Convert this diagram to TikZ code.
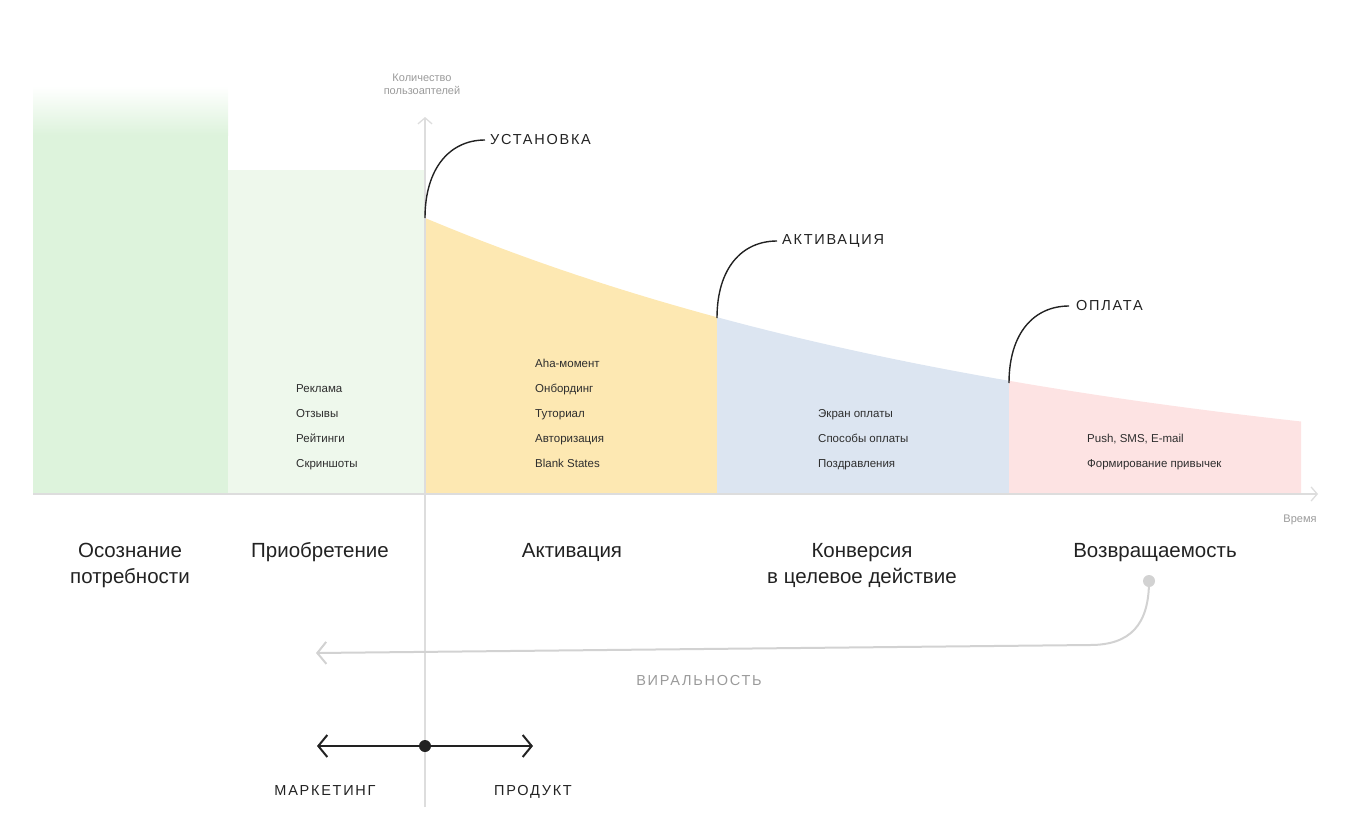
\documentclass[tikz,border=0pt]{standalone}
\usepackage{fontspec}
\setmainfont{Liberation Sans}
\newfontfamily\spaced[LetterSpace=12]{Liberation Sans}
\usetikzlibrary{arrows.meta}
\definecolor{greenA}{HTML}{DDF3DC}
\definecolor{greenB}{HTML}{EEF8EC}
\definecolor{yellowA}{HTML}{FDE8B2}
\definecolor{blueA}{HTML}{DCE5F1}
\definecolor{pinkA}{HTML}{FDE3E3}
\definecolor{axisgray}{HTML}{DDDDDD}
\definecolor{lightgray}{HTML}{D2D2D2}
\definecolor{textgray}{HTML}{9A9A9A}
\definecolor{darktext}{HTML}{222222}
\definecolor{itemtext}{HTML}{2E2E2E}
\tikzset{
  axisline/.style={draw=axisgray, line width=1.3pt},
  callout/.style={draw=darktext, line width=1.4pt},
  milestone/.style={font=\spaced\fontsize{14.5}{17}\selectfont, text=darktext, anchor=west, inner sep=0pt},
  item/.style={font=\fontsize{11.5}{13}\selectfont, text=itemtext, anchor=base west, inner sep=0pt},
  stage/.style={font=\fontsize{20.5}{26}\selectfont, text=darktext, align=center, anchor=base, inner sep=0pt},
  axislabel/.style={font=\fontsize{11}{13}\selectfont, text=textgray, align=center, inner sep=0pt},
  bottomlabel/.style={font=\spaced\fontsize{14.5}{17}\selectfont, text=darktext, anchor=base, inner sep=0pt},
}
\begin{document}
\begin{tikzpicture}[x=1pt,y=-1pt]
\useasboundingbox (0,0) rectangle (1360,833);
% left green block with fade
\shade[top color=white, bottom color=greenA] (33,86) rectangle (228,135);
\fill[greenA] (33,134.5) rectangle (228,494);
\fill[greenB] (228,170) rectangle (425,494);
% decay areas
\fill[yellowA] (425,494) -- plot[domain=425:717, samples=40] (\x,{494-276*exp(-0.001528*(\x-425))}) -- (717,494) -- cycle;
\fill[blueA] (717,494) -- plot[domain=717:1009, samples=40] (\x,{494-276*exp(-0.001528*(\x-425))}) -- (1009,494) -- cycle;
\fill[pinkA] (1009,494) -- plot[domain=1009:1301, samples=40] (\x,{494-276*exp(-0.001528*(\x-425))}) -- (1301,494) -- cycle;
% axes
\coordinate (xstart) at (33,494);
\coordinate (xend) at (1318,494);
\coordinate (ystart) at (425,807);
\coordinate (yend) at (425,117);
\draw[axisline, -{Straight Barb[length=6pt,width=14pt]}] (xstart) -- (xend);
\draw[axisline, -{Straight Barb[length=6pt,width=14pt]}] (ystart) -- (yend);
\node[axislabel] (ylab) at (422,84) {Количество\\пользоаптелей};
\node[axislabel] (xlab) at (1300,520) {Время};
% milestones
\coordinate (m1) at (425,218);
\coordinate (m2) at (717,318);
\coordinate (m3) at (1009,383);
\node[milestone] (inst) at (490,140) {УСТАНОВКА};
\node[milestone] (act) at (782,241) {АКТИВАЦИЯ};
\node[milestone] (pay) at (1076,306) {ОПЛАТА};
\draw[callout] (m1) .. controls (425,168) and (450,140) .. ([xshift=-5pt]inst.west);
\draw[callout] (m2) .. controls (717,268) and (742,241) .. ([xshift=-5pt]act.west);
\draw[callout] (m3) .. controls (1009,333) and (1034,306) .. ([xshift=-7pt]pay.west);
% items
\node[item] (a1) at (296,392) {Реклама};
\node[item] (a2) at (296,417) {Отзывы};
\node[item] (a3) at (296,442) {Рейтинги};
\node[item] (a4) at (296,467) {Скриншоты};
\node[item] (b1) at (535,367) {Aha-момент};
\node[item] (b2) at (535,392) {Онбординг};
\node[item] (b3) at (535,417) {Туториал};
\node[item] (b4) at (535,442) {Авторизация};
\node[item] (b5) at (535,467) {Blank States};
\node[item] (c1) at (818,417) {Экран оплаты};
\node[item] (c2) at (818,442) {Способы оплаты};
\node[item] (c3) at (818,467) {Поздравления};
\node[item] (d1) at (1087,442) {Push, SMS, E-mail};
\node[item] (d2) at (1087,467) {Формирование привычек};
% stages
\node[stage] (s1) at (130,583) {Осознание\\потребности};
\node[stage] (s2) at (320,557) {Приобретение};
\node[stage] (s3) at (572,557) {Активация};
\node[stage] (s4) at (862,583) {Конверсия\\в целевое действие};
\node[stage] (s5) at (1155,557) {Возвращаемость};
% virality
\node[circle, fill=lightgray, minimum size=12pt, inner sep=0pt] (vdot) at (1149,581) {};
\coordinate (vend) at (316,653);
\draw[draw=lightgray, line width=2pt, -{Straight Barb[length=9pt,width=22pt]}] (vdot.center) .. controls (1149,625) and (1130,645) .. (1090,645) -- (vend);
\node[font=\spaced\fontsize{14.5}{17}\selectfont, text=textgray, anchor=base, inner sep=0pt] (vir) at (699,685) {ВИРАЛЬНОСТЬ};
% marketing / product
\node[circle, fill=darktext, minimum size=12pt, inner sep=0pt] (mid) at (425,746) {};
\coordinate (left) at (317,746);
\coordinate (right) at (533,746);
\draw[draw=darktext, line width=2pt, -{Straight Barb[length=9pt,width=22pt]}] (mid.center) -- (left);
\draw[draw=darktext, line width=2pt, -{Straight Barb[length=9pt,width=22pt]}] (mid.center) -- (right);
\node[bottomlabel] (mk) at (325,795.5) {МАРКЕТИНГ};
\node[bottomlabel] (pr) at (533,795.5) {ПРОДУКТ};
\end{tikzpicture}
\end{document}
